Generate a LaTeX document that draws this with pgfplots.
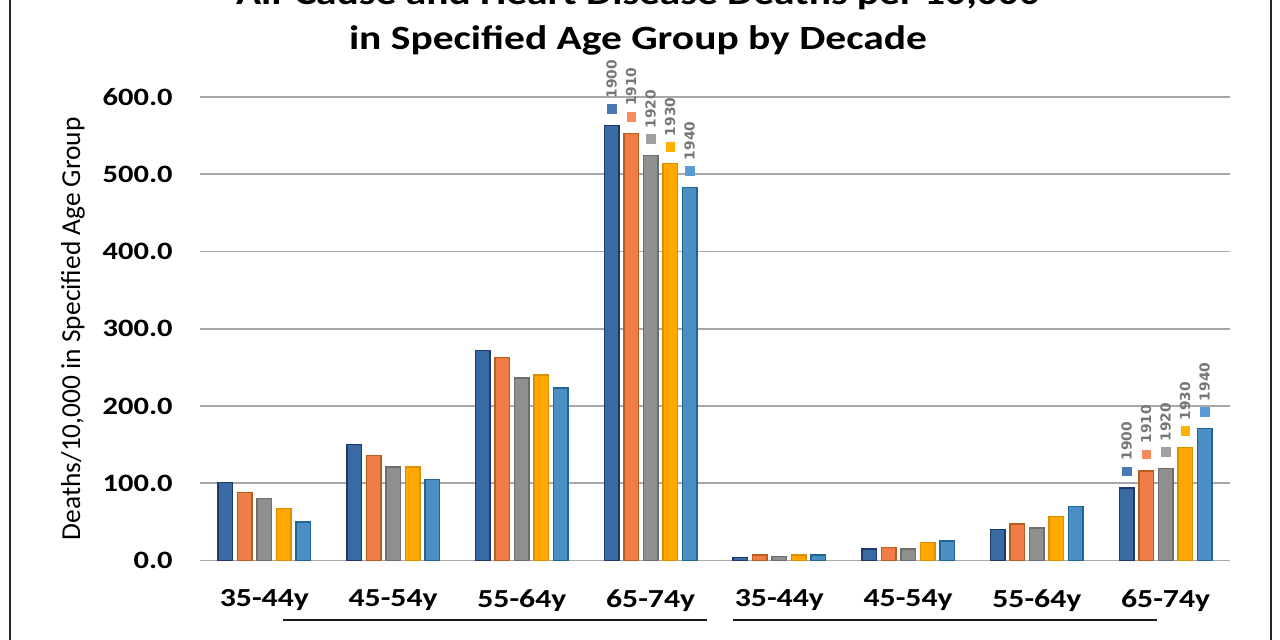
\documentclass[border=0pt]{standalone}
\usepackage{fontspec}
\setmainfont[FakeStretch=1.22]{Carlito}
\newfontfamily\ylabfont{Carlito}
\newfontfamily\yrfont{DejaVu Sans}
\usepackage{pgfplots}
\pgfplotsset{compat=1.18}

\definecolor{f1}{HTML}{3A6AA3}\definecolor{e1}{HTML}{1C3A6B}
\definecolor{f2}{HTML}{EE7E45}\definecolor{e2}{HTML}{BE5A1C}
\definecolor{f3}{HTML}{8F8F8F}\definecolor{e3}{HTML}{6E6E6E}
\definecolor{f4}{HTML}{FFA800}\definecolor{e4}{HTML}{E08E00}
\definecolor{f5}{HTML}{4A8FC3}\definecolor{e5}{HTML}{1F6690}
\definecolor{s1}{HTML}{4A78B2}
\definecolor{s2}{HTML}{F38B5C}
\definecolor{s3}{HTML}{A0A0A0}
\definecolor{s4}{HTML}{FFB000}
\definecolor{s5}{HTML}{5B9BD5}
\definecolor{yrgray}{HTML}{767676}
\definecolor{gridgray}{HTML}{A8A8A8}

\newcommand\yrlab[1]{\ifnum\pgfplotspointmeta>0 \hspace*{5.5pt}\textcolor{#1}{\rule{4.8pt}{4.8pt}}\hspace{3pt}{\yrfont\bfseries\fontsize{6.9}{8}\selectfont\color{yrgray}\pgfplotspointmeta}\fi}

\begin{document}
\begin{tikzpicture}
\begin{axis}[
  at={(100pt,39.75pt)}, anchor=south west,
  scale only axis, width=515pt, height=231.75pt,
  ybar=2.4pt, bar width=7.35pt,
  xmin=-0.5, xmax=7.5, ymin=0, ymax=600,
  enlargelimits=false,
  xtick={0,...,7},
  xticklabels={35-44y,45-54y,55-64y,65-74y,35-44y,45-54y,55-64y,65-74y},
  ytick={0,100,...,600},
  yticklabel={\pgfmathprintnumber[fixed,fixed zerofill,precision=1]{\tick}},
  /pgf/number format/assume math mode=true,
  ymajorgrids, grid style={color=gridgray, line width=0.8pt},
  axis line style={draw=none},
  major tick length=0pt, tick style={draw=none},
  yticklabel style={font=\bfseries\fontsize{12.5}{14}\selectfont, anchor=east, inner sep=0pt, xshift=-13.5pt},
  xticklabel style={font=\bfseries\fontsize{13}{15}\selectfont, anchor=north, inner sep=0pt, yshift=-14.5pt},
  ylabel={Deaths/10,000 in Specified Age Group},
  every axis y label/.style={at={(axis description cs:-0.1233,0.5)}, rotate=90, anchor=center, font=\ylabfont\fontsize{13.7}{15}\selectfont},
  point meta=explicit symbolic,
  every node near coord/.append style={rotate=90, anchor=west, inner sep=0pt},
  clip=false,
]
\addplot[fill=f1, draw=e1, line width=0.75pt, nodes near coords={\yrlab{s1}}] coordinates {
  (0,101) [0] (1,150) [0] (2,272) [0] (3,563) [1900]
  (4,4) [0] (5,15) [0] (6,40) [0] (7,94) [1900]};
\addplot[fill=f2, draw=e2, line width=0.75pt, nodes near coords={\yrlab{s2}}] coordinates {
  (0,88) [0] (1,136) [0] (2,263) [0] (3,553) [1910]
  (4,7) [0] (5,17) [0] (6,47) [0] (7,116) [1910]};
\addplot[fill=f3, draw=e3, line width=0.75pt, nodes near coords={\yrlab{s3}}] coordinates {
  (0,80) [0] (1,121) [0] (2,236) [0] (3,524) [1920]
  (4,5) [0] (5,15) [0] (6,42) [0] (7,119) [1920]};
\addplot[fill=f4, draw=e4, line width=0.75pt, nodes near coords={\yrlab{s4}}] coordinates {
  (0,67) [0] (1,121) [0] (2,240) [0] (3,514) [1930]
  (4,7) [0] (5,23) [0] (6,57) [0] (7,146) [1930]};
\addplot[fill=f5, draw=e5, line width=0.75pt, nodes near coords={\yrlab{s5}}] coordinates {
  (0,50) [0] (1,105) [0] (2,223) [0] (3,483) [1940]
  (4,7) [0] (5,25) [0] (6,70) [0] (7,171) [1940]};
\end{axis}
\node[anchor=base, font=\bfseries\fontsize{17}{20}\selectfont] at (319pt,295pt) {in Specified Age Group by Decade};
\node[anchor=base, font=\bfseries\fontsize{17}{20}\selectfont] at (319pt,317.5pt) {All-Cause and Heart Disease Deaths per 10,000};
\draw[line width=1pt, color=black!85] (5pt,0pt) -- (5pt,320pt);
\draw[line width=1pt, color=black!85] (635.5pt,0pt) -- (635.5pt,320pt);
\draw[line width=1.3pt, color=black!90] (141.5pt,10pt) -- (353.5pt,10pt);
\draw[line width=1.3pt, color=black!90] (366.5pt,10pt) -- (578.5pt,10pt);
\pgfresetboundingbox
\useasboundingbox (0pt,0pt) rectangle (640pt,320pt);
\end{tikzpicture}
\end{document}
